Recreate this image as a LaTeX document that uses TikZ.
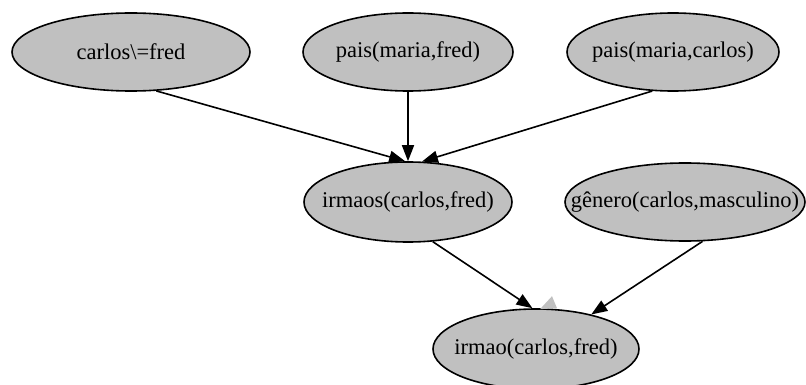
\documentclass[tikz,border=0pt]{standalone}
\usepackage{fontspec}
\setmainfont{Liberation Serif}
\usetikzlibrary{shapes.geometric,arrows.meta,calc}
\definecolor{factfill}{HTML}{C0C0C0}
% zero-width box so the label never widens the ellipse
\newcommand{\facttext}[1]{\makebox[0pt]{#1}}
\tikzset{
  fact/.style={ellipse, draw=black, line width=1.6pt, fill=factfill,
    inner sep=0pt, font=\fontsize{22.5}{26}\selectfont},
  dep/.style={line width=1.6pt, -{Triangle[length=16pt,width=12pt]}}
}
\begin{document}
\begin{tikzpicture}[x=1pt,y=-1pt]
\useasboundingbox (0,0) rectangle (806,385);
% premises
\node[fact, minimum width=238pt, minimum height=78pt] (neq)   at (131,52)  {\facttext{carlos\textbackslash=fred}};
\node[fact, minimum width=210pt, minimum height=78pt] (paisf) at (408,52)  {\facttext{pais(maria,fred)}};
\node[fact, minimum width=212pt, minimum height=78pt] (paisc) at (673,52)  {\facttext{pais(maria,carlos)}};
% intermediate facts
\node[fact, minimum width=208pt, minimum height=80pt] (irmaos) at (408,202) {\facttext{irmaos(carlos,fred)}};
\node[fact, minimum width=240pt, minimum height=78pt] (genero) at (685,202) {\facttext{gênero(carlos,masculino)}};
% conclusion
\node[fact, minimum width=206pt, minimum height=80pt] (irmao)  at (536,349) {\facttext{irmao(carlos,fred)}};
% dependencies
\draw[dep] (neq.-57)    -- (irmaos.94);
\draw[dep] (paisf.south) -- (irmaos.north);
\draw[dep] (paisc.242)  -- (irmaos.71);
\draw[dep] (irmaos.-58) -- (irmao.95);
\draw[dep] (genero.-66) -- (irmao.32);
% faded tip on top of the conclusion
\fill[factfill] ($(irmao.north)+(4,1)$) -- ($(irmao.north)+(21,0)$) -- ($(irmao.north)+(16,-12)$) -- cycle;
\end{tikzpicture}
\end{document}
